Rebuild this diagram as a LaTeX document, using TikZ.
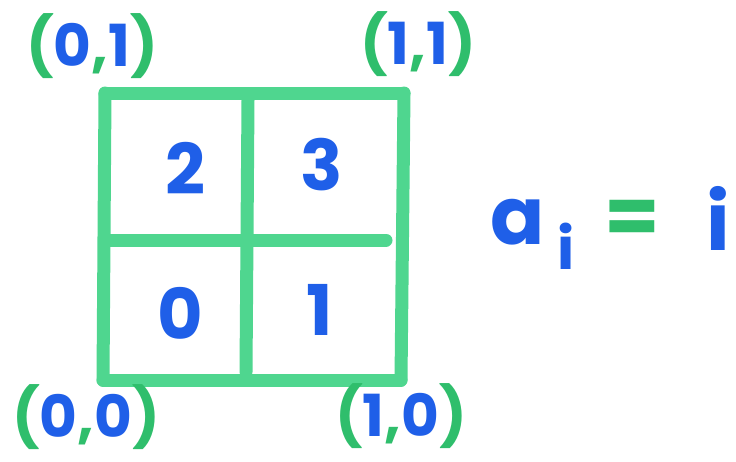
\documentclass[tikz,border=0pt]{standalone}
\usepackage{fontspec}
\setmainfont{Poppins}
\definecolor{gridgreen}{HTML}{4FD68F}
\definecolor{pgreen}{HTML}{2FBE6C}
\definecolor{mblue}{HTML}{1F5FE8}
\tikzset{
  gridline/.style={draw=gridgreen, line width=13pt, line cap=round},
  cellnum/.style={text=mblue, font=\fontsize{70}{70}\selectfont\bfseries, inner sep=0pt},
  corner/.style={text=mblue, font=\fontsize{58}{58}\selectfont\bfseries, inner sep=0pt},
  eqtext/.style={text=mblue, font=\fontsize{80}{80}\selectfont\bfseries, inner sep=0pt},
}
\newcommand{\gp}[1]{{\color{pgreen}#1}}
\begin{document}
\begin{tikzpicture}[x=1pt,y=-1pt]
\useasboundingbox (0,0) rectangle (736,461);
% grid
\coordinate (tl) at (105,93);
\coordinate (tr) at (404,93);
\coordinate (bl) at (103,380);
\coordinate (br) at (401,380);
\coordinate (ml) at (105,240);
\coordinate (mr) at (386,240);
\coordinate (mt) at (248,100);
\coordinate (mb) at (246,372);
\draw[gridline] (tl) -- (tr);
\draw[gridline] (tl) -- (bl);
\draw[gridline] (tr) -- (br);
\draw[gridline] (bl) -- (br);
\draw[gridline] (ml) -- (mr);
\draw[gridline] (mt) -- (mb);
% cell numbers
\node[cellnum] (n2) at (185,168) {2};
\node[cellnum] (n3) at (322,165) {3};
\node[cellnum] (n0) at (180,313) {0};
\node[cellnum] (n1) at (320,310) {1};
% corner labels
\node[corner] (c01) at (92,46) {\gp{(}0\gp{,}1\gp{)}};
\node[corner] (c11) at (418,44) {\gp{(}1\gp{,}1\gp{)}};
\node[corner] (c00) at (86,417) {\gp{(}0\gp{,}0\gp{)}};
\node[corner] (c10) at (401,416) {\gp{(}1\gp{,}0\gp{)}};
% equation
\node[eqtext] (a) at (518,222) {a};
\node[eqtext, font=\fontsize{58}{58}\selectfont\bfseries] (isub) at (566,246) {i};
\node[eqtext, text=pgreen] (eq) at (632,222) {=};
\node[eqtext] (i) at (718,218) {i};
\end{tikzpicture}
\end{document}
